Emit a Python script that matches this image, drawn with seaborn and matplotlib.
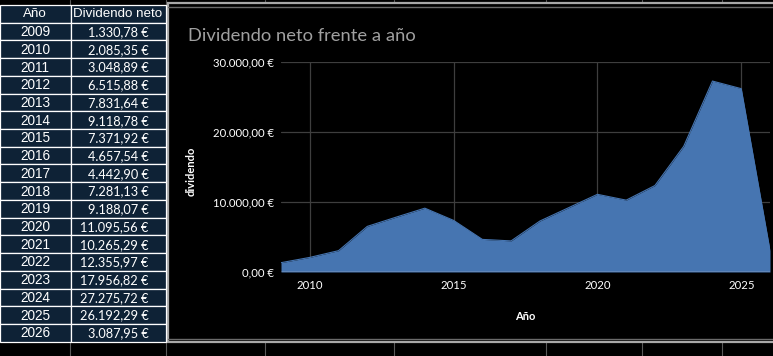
import matplotlib
matplotlib.use("Agg")
import matplotlib.pyplot as plt
from matplotlib.patches import Rectangle
from matplotlib.ticker import FuncFormatter
import seaborn as sns
import pandas as pd

# ---- data ----
years = [2009, 2010, 2011, 2012, 2013, 2014, 2015, 2016, 2017,
         2018, 2019, 2020, 2021, 2022, 2023, 2024, 2025, 2026]
dividends = [1330.78, 2085.35, 3048.89, 6515.88, 7831.64, 9118.78, 7371.92,
             4657.54, 4442.90, 7281.13, 9188.07, 11095.56, 10265.29,
             12355.97, 17956.82, 27275.72, 26192.29, 3087.95]
header = ["Año", "Dividendo neto"]
title = "Dividendo neto frente a año"
xlabel = "Año"
ylabel = "dividendo"
yticks = [0, 10000, 20000, 30000]
xticks = [2010, 2015, 2020, 2025]

df = pd.DataFrame({"Año": years, "dividendo": dividends})


def eur(v, decimals=2):
    s = f"{v:,.{decimals}f}"
    s = s.replace(",", "X").replace(".", ",").replace("X", ".")
    return s + " €"


sns.set_theme(style="dark")
plt.rcParams["font.family"] = ["Lato", "DejaVu Sans"]

W, H = 773, 356
fig = plt.figure(figsize=(W / 100, H / 100), dpi=100, facecolor="black")

# background / spreadsheet layer in pixel coordinates
bg = fig.add_axes([0, 0, 1, 1])
bg.set_xlim(0, W)
bg.set_ylim(H, 0)
bg.axis("off")
bg.set_facecolor("black")
bg.add_patch(Rectangle((0, 0), W, H, color="black", zorder=0))

# spreadsheet column grid lines
for gx in [70, 166, 265, 394, 546, 642, 722]:
    bg.plot([gx, gx], [0, H], color="#5a5a5a", lw=0.8, zorder=1)

# chart frame
bg.add_patch(Rectangle((168, 3), W, 339, facecolor="black",
                       edgecolor="#a8a8a8", lw=1.6, zorder=2))
bg.plot([168, W], [7, 7], color="#6a6a6a", lw=1.0, zorder=3)
bg.plot([168, W], [338.5, 338.5], color="#6a6a6a", lw=1.0, zorder=3)

# table
row_h = 17.72
top = 5.0
col_x = [0, 70.5, 166]
navy = "#0e2236"
n_rows = len(years) + 1
for r in range(n_rows):
    y0 = top + r * row_h
    for c in range(2):
        bg.add_patch(Rectangle((col_x[c], y0), col_x[c + 1] - col_x[c], row_h,
                               facecolor=navy, edgecolor="white", lw=0.9,
                               zorder=4))
bg.text(35, top + row_h / 2 + 0.5, header[0], color="white", fontsize=9.6,
        ha="center", va="center", family=["Liberation Sans"], zorder=5)
bg.text(118, top + row_h / 2 + 0.5, header[1], color="white", fontsize=9.6,
        ha="center", va="center", family=["Liberation Sans"], zorder=5)
for i, (yr, dv) in enumerate(zip(years, dividends)):
    yc = top + (i + 1) * row_h + row_h / 2 + 0.5
    bg.text(35, yc, str(yr), color="white", fontsize=9.8, ha="center",
            va="center", family=["Liberation Sans"], zorder=5)
    bg.text(148.5, yc, eur(dv), color="white", fontsize=9.2, ha="right",
            va="center", zorder=5)

# chart title
bg.text(188, 36, title, color="#a0a0a0", fontsize=13.2, ha="left",
        va="center", zorder=5)

# chart axes
left, right = 281, 770
bottom_px, top_px = 272, 62
ax = fig.add_axes([left / W, 1 - bottom_px / H, (right - left) / W,
                   (bottom_px - top_px) / H])
ax.set_facecolor("black")
color = "#4675b1"
ax.fill_between(df["Año"], 0, df["dividendo"], color=color, lw=0, zorder=3)
sns.lineplot(data=df, x="Año", y="dividendo", ax=ax, color=color, lw=0.8,
             zorder=4)
ax.set_xlim(2009, 2026)
ax.set_ylim(0, 30000)
ax.set_xticks(xticks)
ax.set_yticks(yticks)
ax.yaxis.set_major_formatter(FuncFormatter(lambda v, p: eur(v)))
ax.grid(True, color="#3e3e3e", lw=0.9, zorder=1)
for s in ax.spines.values():
    s.set_visible(False)
ax.axhline(0, color="#d0d0d0", lw=1.0, zorder=5)
ax.tick_params(axis="both", colors="white", labelsize=8.2, length=0)
ax.tick_params(axis="x", pad=6)
ax.tick_params(axis="y", pad=5)
ax.set_xlabel(xlabel, color="white", fontsize=8, fontweight="bold",
              labelpad=14)
ax.set_ylabel(ylabel, color="white", fontsize=8, fontweight="bold")
ax.yaxis.set_label_coords((197 - left) / (right - left), 0.48)

fig.savefig("out.png", dpi=100, facecolor="black")
